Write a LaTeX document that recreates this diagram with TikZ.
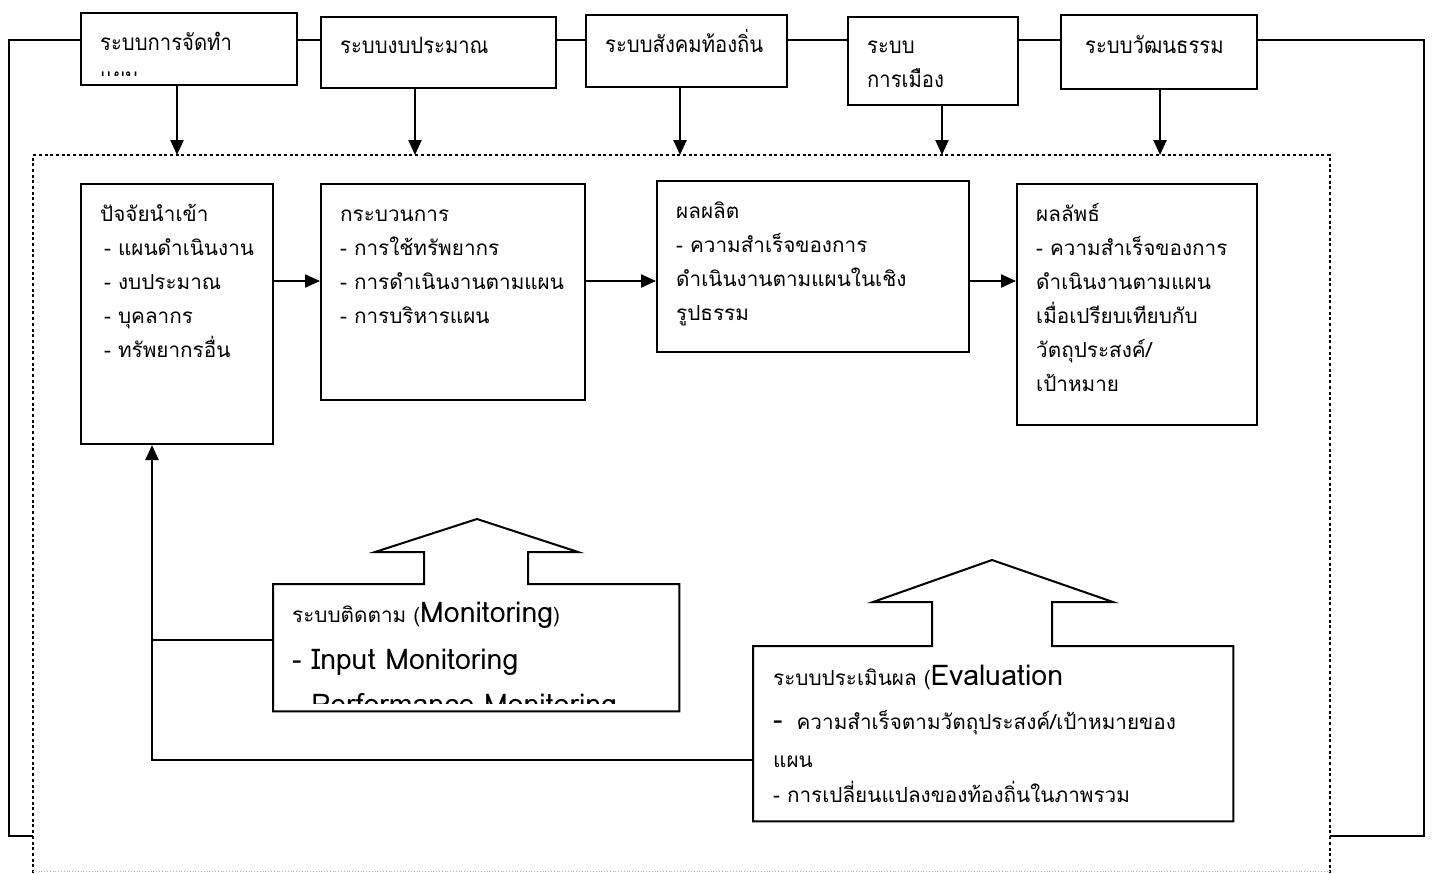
\documentclass[tikz,border=0pt]{standalone}
\usepackage{fontspec}
\setmainfont{Loma}[Script=Thai]
\newfontfamily\topfont[Script=Thai,FakeStretch=0.9]{Loma}
\usetikzlibrary{arrows.meta}
\newcommand\lines[2]{\parbox[t]{460pt}{\raggedright\fontsize{#1}{34}\selectfont #2}}
\newcommand\tfs{\fontsize{22.5}{34}\selectfont}
\newcommand\bfs{\fontsize{20.7}{34}\selectfont}
\newcommand\efs{\fontsize{28.5}{34}\selectfont}
\tikzset{
  box/.style={draw, line width=2pt, rectangle, inner sep=0pt, anchor=north west},
  conn/.style={line width=2.6pt},
  arr/.style={line width=2.2pt, -{Triangle[length=15pt,width=13pt]}},
  frame/.style={line width=2.8pt, dash pattern=on 3pt off 2.7pt},
  txt/.style={anchor=base west, inner sep=0pt},
  blk/.style={line width=2pt, line join=miter}
}
\begin{document}
\begin{tikzpicture}[x=1pt,y=-1pt]
\useasboundingbox (0,0) rectangle (1432,873);
% top boxes
\node[box, minimum width=216pt, minimum height=72pt] (b1) at (80,12) {};
\node[box, minimum width=235pt, minimum height=71pt] (b2) at (320,16) {};
\node[box, minimum width=201pt, minimum height=72pt] (b3) at (585,14) {};
\node[box, minimum width=170pt, minimum height=88pt] (b4) at (847,16) {};
\node[box, minimum width=196pt, minimum height=74pt] (b5) at (1060,14) {};
\begin{scope}
\clip (80,12) rectangle (296,75);
\node[txt] (t1) at (100,50) {\topfont\tfs ระบบการจัดทำ};
\node[txt] (t1b) at (100,84) {\topfont\tfs แผน};
\end{scope}
\node[txt] (t2) at (340,53) {\topfont\tfs ระบบงบประมาณ};
\node[txt] (t3) at (605,52) {\topfont\tfs ระบบสังคมท้องถิ่น};
\node[txt] (t4) at (867,53) {\topfont\lines{22.5}{ระบบ\\การเมือง}};
\node[txt] (t5) at (1085,53) {\topfont\tfs ระบบวัฒนธรรม};
% dotted frame
\coordinate (fl) at (33,155);
\coordinate (fr) at (1330,155);
\draw[frame] (33,873) -- (fl) -- (fr) -- (1330,873);
\draw[gray!60, line width=0.8pt, dotted] (33,871) -- (1330,871);
% chain line
\draw[conn] (b1.west |- 0,40) -- (9,40) -- (9,836) -- (fl |- 0,836);
\draw[conn] (b1.east |- 0,40) -- (b2.west |- 0,40);
\draw[conn] (b2.east |- 0,40) -- (b3.west |- 0,40);
\draw[conn] (b3.east |- 0,40) -- (b4.west |- 0,40);
\draw[conn] (b4.east |- 0,40) -- (b5.west |- 0,40);
\draw[conn] (b5.east |- 0,40) -- (1424,40) -- (1424,836) -- (fr |- 0,836);
% down arrows
\coordinate (a1) at (177,155);
\coordinate (a2) at (415,155);
\coordinate (a3) at (680,155);
\coordinate (a4) at (942,155);
\coordinate (a5) at (1160,155);
\draw[arr] (b1.south -| a1) -- (a1);
\draw[arr] (b2.south -| a2) -- (a2);
\draw[arr] (b3.south -| a3) -- (a3);
\draw[arr] (b4.south -| a4) -- (a4);
\draw[arr] (b5.south -| a5) -- (a5);
% middle boxes
\node[box, minimum width=192pt, minimum height=260pt] (in) at (80,183) {};
\node[box, minimum width=264pt, minimum height=216pt] (pr) at (320,183) {};
\node[box, minimum width=312pt, minimum height=171pt] (ou) at (656,180) {};
\node[box, minimum width=240pt, minimum height=241pt] (re) at (1016,183) {};
\node[txt] (tin) at (100,221) {\lines{20.7}{ปัจจัยนำเข้า\\\hspace*{4pt}- แผนดำเนินงาน\\\hspace*{4pt}- งบประมาณ\\\hspace*{4pt}- บุคลากร\\\hspace*{4pt}- ทรัพยากรอื่น}};
\node[txt] (tpr) at (340,221) {\lines{20.7}{กระบวนการ\\- การใช้ทรัพยากร\\- การดำเนินงานตามแผน\\- การบริหารแผน}};
\node[txt] (tou) at (676,218) {\lines{20.7}{ผลผลิต\\- ความสำเร็จของการ\\ดำเนินงานตามแผนในเชิง\\รูปธรรม}};
\node[txt] (tre) at (1036,221) {\lines{20.7}{ผลลัพธ์\\- ความสำเร็จของการ\\ดำเนินงานตามแผน\\เมื่อเปรียบเทียบกับ\\วัตถุประสงค์/\\เป้าหมาย}};
\draw[arr] (in.east |- 0,281) -- (pr.west |- 0,281);
\draw[arr] (pr.east |- 0,281) -- (ou.west |- 0,281);
\draw[arr] (ou.east |- 0,281) -- (re.west |- 0,281);
% monitoring block
\node[rectangle, inner sep=0pt, anchor=north west, minimum width=406pt, minimum height=127pt] (mon) at (273,584) {};
\draw[blk] (mon.north west) -- (424,584) -- (424,552) -- (375,552) -- (477,519) -- (578,552) -- (528,552) -- (528,584) -- (mon.north east) -- (mon.south east) -- (mon.south west) -- cycle;
\begin{scope}
\clip (273,584) rectangle (679,703);
\node[txt] (tmon) at (292,622) {\bfs ระบบติดตาม (\efs Monitoring\bfs)};
\node[txt] (tm1) at (292,669) {\efs - Input Monitoring};
\node[txt] (tm2) at (292,714) {\efs - Performance Monitoring};
\end{scope}
% evaluation block
\node[rectangle, inner sep=0pt, anchor=north west, minimum width=480pt, minimum height=175pt] (ev) at (753,646) {};
\draw[blk] (ev.north west) -- (932,646) -- (932,602) -- (873,602) -- (992,560) -- (1113,602) -- (1052,602) -- (1052,646) -- (ev.north east) -- (ev.south east) -- (ev.south west) -- cycle;
\node[txt] (tev) at (773,685) {\bfs ระบบประเมินผล (\efs Evaluation};
\node[txt] (te1) at (773,729) {\efs -\bfs\ \ ความสำเร็จตามวัตถุประสงค์/เป้าหมายของ};
\node[txt] (te2) at (773,767) {\bfs แผน};
\node[txt] (te3) at (773,802) {\bfs - การเปลี่ยนแปลงของท้องถิ่นในภาพรวม};
% feedback
\coordinate (fb) at (152,760);
\coordinate (mj) at (152,640);
\draw[arr] (ev.west |- fb) -- (fb) -- (in.south -| fb);
\draw[line width=2pt] (mon.west |- mj) -- (mj);
\end{tikzpicture}
\end{document}
